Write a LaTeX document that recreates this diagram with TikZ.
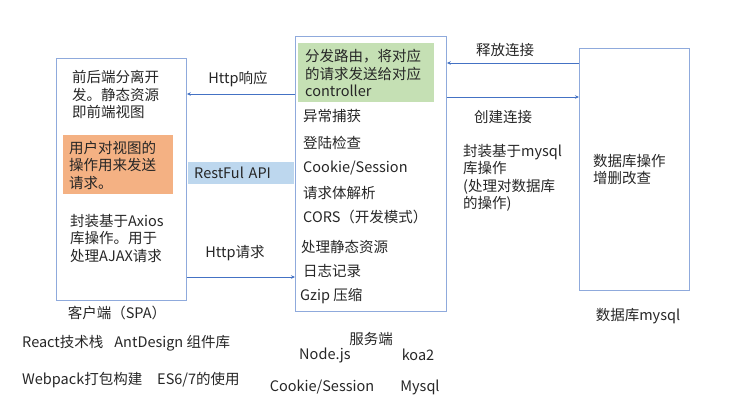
\documentclass[tikz,border=0pt]{standalone}
\usepackage{fontspec}
\setmainfont{Noto Sans CJK SC}
\usetikzlibrary{arrows.meta}
\definecolor{boxline}{HTML}{8FAADC}
\definecolor{arrowc}{HTML}{4472C4}
\definecolor{orangef}{HTML}{F4B183}
\definecolor{greenf}{HTML}{C5E0B4}
\definecolor{bluef}{HTML}{BDD7EE}
\definecolor{txtc}{HTML}{262626}
\begin{document}
\begin{tikzpicture}[x=1bp,y=-1bp,
  txt/.style={inner sep=0pt, font=\fontsize{14.5bp}{17.5bp}\selectfont, text=txtc, align=left},
  box/.style={draw=boxline, line width=0.9bp, inner sep=0pt, anchor=north west},
  fillbox/.style={draw=none, inner sep=0pt, anchor=north west},
  arr/.style={draw=arrowc, line width=0.9bp, -{Stealth[length=4bp,width=3.5bp]}}]
\useasboundingbox (0,0) rectangle (742,408);
% boxes
\node[box, minimum width=130bp, minimum height=242bp] (client) at (56,58) {};
\node[box, minimum width=151bp, minimum height=275bp] (server) at (295,36) {};
\node[box, minimum width=110bp, minimum height=242bp] (db) at (579,48) {};
\node[fillbox, fill=greenf, minimum width=136bp, minimum height=59bp] (green) at (298,43) {};
\node[fillbox, fill=orangef, minimum width=110bp, minimum height=59bp] (orange) at (63,135) {};
\node[fillbox, fill=bluef, minimum height=22bp, text width=94bp, inner xsep=6bp, inner ysep=0pt,
      font=\fontsize{14.5bp}{17.5bp}\selectfont, text=txtc, align=left] (rest) at (188,162) {RestFul API};
% client texts
\node[txt, anchor=west] (c1) at (72,94.7) {前后端分离开\\发。静态资源\\即前端视图};
\node[txt, anchor=west] (c2) at (69,165.3) {用户对视图的\\操作用来发送\\请求。};
\node[txt, anchor=west] (c3) at (70,238) {封装基于Axios\\库操作。用于\\处理AJAX请求};
% server texts
\node[txt, anchor=west] (s0) at (305,73.3) {分发路由，将对应\\的请求发送给对应\\controller};
\node[txt, anchor=west] (s1) at (303,116) {异常捕获};
\node[txt, anchor=west] (s2) at (303,143) {登陆检查};
\node[txt, anchor=west] (s3) at (303,168) {Cookie/Session};
\node[txt, anchor=west] (s4) at (303,193) {请求体解析};
\node[txt, anchor=west] (s5) at (303,217) {CORS（开发模式）};
\node[txt, anchor=west] (s6) at (301,247) {处理静态资源};
\node[txt, anchor=west] (s7) at (303,271) {日志记录};
\node[txt, anchor=west] (s8) at (300,296) {Gzip 压缩};
% db texts
\node[txt, anchor=west] (d1) at (593,169.5) {数据库操作\\增删改查};
\node[txt, anchor=west] (m1) at (463,178) {封装基于mysql\\库操作\\(处理对数据库\\的操作)};
% connector labels
\node[txt] (l1) at (238,79) {Http响应};
\node[txt] (l2) at (235,253) {Http请求};
\node[txt] (l3) at (505,50) {释放连接};
\node[txt] (l4) at (503,117) {创建连接};
% captions
\node[txt] (cap1) at (117,313) {客户端（SPA）};
\node[txt] (cap2) at (371,339) {服务端};
\node[txt] (cap3) at (638,316) {数据库mysql};
\node[txt, anchor=west] (b1) at (22,343) {React技术栈\hspace{11bp}AntDesign 组件库};
\node[txt, anchor=west] (b2) at (22,380) {Webpack打包构建\hspace{15bp}ES6/7的使用};
\node[txt] (b3) at (325,355) {Node.js};
\node[txt] (b4) at (418,355) {koa2};
\node[txt] (b5) at (322,387) {Cookie/Session};
\node[txt] (b6) at (420,387) {Mysql};
% connectors
\coordinate (y1) at (0,94);
\coordinate (y2) at (0,277);
\coordinate (y3) at (0,63);
\coordinate (y4) at (0,97);
\draw[arr] (server.west |- y1) -- (client.east |- y1);
\draw[arr] (client.east |- y2) -- (server.west |- y2);
\draw[arr] (db.west |- y3) -- (server.east |- y3);
\draw[arr] (server.east |- y4) -- (db.west |- y4);
\end{tikzpicture}
\end{document}
